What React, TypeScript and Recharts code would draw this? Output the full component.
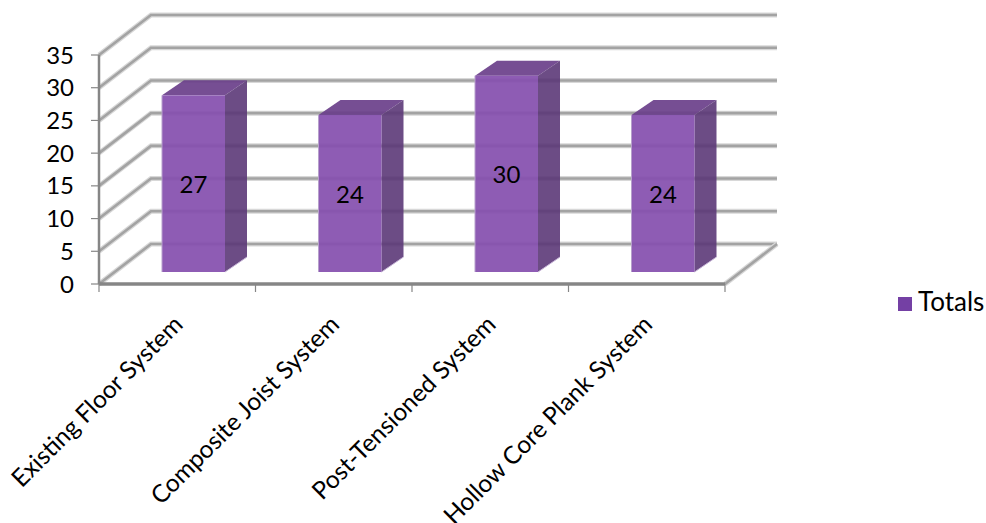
import { BarChart, Bar, XAxis, YAxis, ReferenceLine, Legend, LabelList } from 'recharts'

const categories = ['Existing Floor System', 'Composite Joist System', 'Post-Tensioned System', 'Hollow Core Plank System']
const totals = [27, 24, 30, 24]
const yTicks = [0, 5, 10, 15, 20, 25, 30, 35]

const data = categories.map((name, i) => ({ name, Totals: totals[i] }))

const FONT = 'Lato, "Open Sans", sans-serif'
const GRID = '#a3a3a3'
const AXIS = '#868686'
// perspective offsets of the fake 3D box
const WALL = { dx: 52, dy: -40 }
const BAR_SHIFT = { dx: 16, dy: -12 }
const BAR_DEPTH = { dx: 22, dy: -15 }

function WallLine(props: any) {
  const { x1, x2, y1 } = props
  const pts = `${x1},${y1} ${x1 + WALL.dx},${y1 + WALL.dy} ${x2 + WALL.dx},${y1 + WALL.dy}`
  return (
    <g>
      <polyline points={pts} fill="none" stroke="#d8d8d8" strokeWidth={5} />
      <polyline points={pts} fill="none" stroke={GRID} strokeWidth={2.6} />
      {props.floor && (
        <g>
          <line x1={x2} y1={y1} x2={x2 + WALL.dx} y2={y1 + WALL.dy} stroke="#d8d8d8" strokeWidth={5} />
          <line x1={x2} y1={y1} x2={x2 + WALL.dx} y2={y1 + WALL.dy} stroke={GRID} strokeWidth={2.6} />
        </g>
      )}
    </g>
  )
}

function Box3D(props: any) {
  const { x, y, width, height } = props
  const l = x + BAR_SHIFT.dx
  const r = l + width
  const t = y + BAR_SHIFT.dy
  const b = t + height
  const { dx, dy } = BAR_DEPTH
  return (
    <g>
      <polygon points={`${l},${t} ${l + dx},${t + dy} ${r + dx},${t + dy} ${r},${t}`} fill="#6a3f8a" fillOpacity={0.92} />
      <polygon points={`${r},${t} ${r + dx},${t + dy} ${r + dx},${b + dy} ${r},${b}`} fill="#5c3878" fillOpacity={0.9} />
      <rect x={l} y={t} width={width} height={height} fill="#8550ae" fillOpacity={0.93} />
      <line x1={l} y1={t} x2={l} y2={b} stroke="#b7a0cc" strokeWidth={1} />
      <line x1={r} y1={b} x2={r + dx} y2={b + dy} stroke="#c6b4d6" strokeWidth={1} />
    </g>
  )
}

function BarValue(props: any) {
  const { x, y, width, height, value } = props
  return (
    <text
      x={x + BAR_SHIFT.dx + width / 2}
      y={y + BAR_SHIFT.dy + height / 2}
      textAnchor="middle"
      dominantBaseline="central"
      fontFamily={FONT}
      fontSize={24}
      fill="#000"
    >
      {value}
    </text>
  )
}

function CategoryTick(props: any) {
  const { x, y, payload } = props
  const half = payload.offset ?? 78
  const isLast = payload.index === categories.length - 1
  return (
    <g>
      <line x1={x - half} y1={y - 8} x2={x - half} y2={y} stroke={AXIS} strokeWidth={1.2} />
      {isLast && <line x1={x + half} y1={y - 8} x2={x + half} y2={y} stroke={AXIS} strokeWidth={1.2} />}
      <text
        x={x + 7}
        y={y + 34}
        textAnchor="end"
        transform={`rotate(-45 ${x + 7} ${y + 34})`}
        fontFamily={FONT}
        fontSize={24.5}
        fill="#000"
      >
        {payload.value}
      </text>
    </g>
  )
}

export default function App() {
  return (
    <div style={{ position: 'absolute', left: 0, top: 0, width: 986, height: 523, background: '#fff', overflow: 'hidden' }}>
      <BarChart
        width={986}
        height={523}
        data={data}
        barSize={63}
        margin={{ top: 55, right: 261, bottom: 0, left: 39 }}
      >
        {yTicks.map((v) => (
          <ReferenceLine key={v} y={v} zIndex={-50} shape={<WallLine floor={v === 0} />} />
        ))}
        <XAxis
          dataKey="name"
          height={207}
          interval={0}
          tickLine={false}
          axisLine={{ stroke: AXIS, strokeWidth: 3.5 }}
          tick={<CategoryTick />}
        />
        <YAxis
          width={60}
          domain={[0, 35]}
          ticks={yTicks}
          interval={0}
          tickSize={8}
          tickMargin={17}
          tickLine={{ stroke: AXIS, strokeWidth: 1.2 }}
          axisLine={{ stroke: AXIS, strokeWidth: 2.5 }}
          tick={{ fill: '#000', fontSize: 24, fontFamily: FONT }}
        />
        <Legend
          layout="vertical"
          iconType="square"
          iconSize={14}
          wrapperStyle={{ position: 'absolute', left: 898, top: 285, width: 120, fontFamily: FONT, fontSize: 26, whiteSpace: 'nowrap' }}
          formatter={(value: string) => <span style={{ color: '#000', marginLeft: 2 }}>{value}</span>}
        />
        <Bar dataKey="Totals" fill="#7440a4" isAnimationActive={false} shape={<Box3D />}>
          <LabelList dataKey="Totals" content={<BarValue />} />
        </Bar>
      </BarChart>
    </div>
  )
}
